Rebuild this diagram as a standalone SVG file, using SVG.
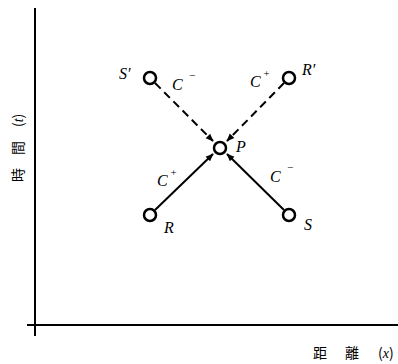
<svg xmlns="http://www.w3.org/2000/svg" width="398" height="364" viewBox="0 0 398 364">
<style>
.ax{stroke:#000;stroke-width:2;fill:none}
.ln{stroke:#000;stroke-width:2;fill:none}
.dash{stroke-dasharray:8,5}
.nd{fill:#fff;stroke:#000;stroke-width:2.5}
.t{font-family:"Liberation Serif",serif;font-style:italic;font-size:16px;fill:#000}
.s{font-family:"Liberation Serif",serif;font-size:11px;fill:#000}
.cjk{font-family:"Noto Sans CJK JP","Noto Sans CJK SC",sans-serif;font-size:14px;fill:#000}
.it{font-family:"Liberation Serif",serif;font-style:italic}
</style>
<defs>
<marker id="ah" viewBox="0 0 10 10" refX="9" refY="5" markerWidth="5" markerHeight="4" orient="auto" markerUnits="strokeWidth">
<path d="M0,1 L10,5 L0,9 z" fill="#000"/>
</marker>
</defs>
<g id="axes">
<line class="ax" x1="35" y1="8" x2="35" y2="336"/>
<line class="ax" x1="27" y1="325" x2="398" y2="325"/>
<text class="cjk" transform="translate(23,182) rotate(-90)"><tspan x="0" y="0">時</tspan><tspan x="27" y="0">間</tspan><tspan x="55" y="0">(</tspan><tspan class="it">t</tspan><tspan>)</tspan></text>
<text class="cjk" y="358"><tspan x="313">距</tspan><tspan x="345">離</tspan><tspan x="378">(</tspan><tspan class="it">x</tspan><tspan>)</tspan></text>
</g>
<g id="connectors">
<line class="ln dash" x1="155" y1="83" x2="213" y2="141" marker-end="url(#ah)"/>
<line class="ln dash" x1="284" y1="83" x2="227" y2="141" marker-end="url(#ah)"/>
<line class="ln" x1="155" y1="210" x2="213" y2="154" marker-end="url(#ah)"/>
<line class="ln" x1="284" y1="210" x2="227" y2="154" marker-end="url(#ah)"/>
</g>
<g id="node-Sp"><circle class="nd" cx="150" cy="78" r="6"/><text class="t" x="119" y="79">S′</text></g>
<g id="node-Rp"><circle class="nd" cx="289" cy="78" r="6"/><text class="t" x="302" y="75">R′</text></g>
<g id="node-P"><circle class="nd" cx="220" cy="148" r="6"/><text class="t" x="236" y="152">P</text></g>
<g id="node-R"><circle class="nd" cx="150" cy="215" r="6"/><text class="t" x="164" y="233">R</text></g>
<g id="node-S"><circle class="nd" cx="289" cy="215" r="6"/><text class="t" x="304" y="230">S</text></g>
<g id="labels">
<text class="t" x="172" y="90">C<tspan class="s" dx="6" dy="-11">−</tspan></text>
<text class="t" x="250" y="87">C<tspan class="s" dx="2" dy="-10">+</tspan></text>
<text class="t" x="157" y="186">C<tspan class="s" dx="2" dy="-10">+</tspan></text>
<text class="t" x="270" y="182">C<tspan class="s" dx="6" dy="-11">−</tspan></text>
</g>
</svg>
